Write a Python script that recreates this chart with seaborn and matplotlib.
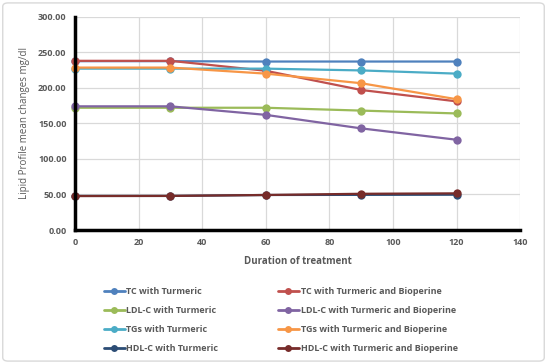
import matplotlib
matplotlib.use("Agg")
import matplotlib.pyplot as plt
import seaborn as sns
import pandas as pd
from matplotlib.lines import Line2D
from matplotlib.patches import FancyBboxPatch

days = [0, 30, 60, 90, 120]
tc_tur = [237.5, 237.5, 237, 237, 237]
tc_bio = [238, 238, 224, 197, 181]
ldl_tur = [172, 172, 172, 168, 164]
ldl_bio = [174, 174, 162, 143, 127]
tg_tur = [227, 227, 227, 224.5, 220]
tg_bio = [228.5, 228.5, 220, 206.5, 184]
hdl_tur = [48, 48, 49.3, 49.5, 49.7]
hdl_bio = [47.8, 48, 49.3, 51, 51.6]

names = ["TC with Turmeric", "TC with Turmeric and Bioperine",
         "LDL-C with Turmeric", "LDL-C with Turmeric and Bioperine",
         "TGs with Turmeric", "TGs with Turmeric and Bioperine",
         "HDL-C with Turmeric", "HDL-C with Turmeric and Bioperine"]
series = [tc_tur, tc_bio, ldl_tur, ldl_bio, tg_tur, tg_bio, hdl_tur, hdl_bio]
colors = ["#4F81BD", "#C0504D", "#9BBB59", "#8064A2",
          "#4BACC6", "#F79646", "#2C4D75", "#772C2A"]

rows = []
for n, s in zip(names, series):
    for d, v in zip(days, s):
        rows.append({"Duration": d, "Value": v, "Series": n})
df = pd.DataFrame(rows)

sns.set_style("white")
plt.rcParams['font.family'] = ['Open Sans', 'DejaVu Sans']

fig = plt.figure(figsize=(5.47, 3.64), dpi=100)
ax = fig.add_axes([0.137, 0.368, 0.814, 0.586])

sns.lineplot(data=df, x="Duration", y="Value", hue="Series", hue_order=names,
             palette=colors, marker="o", markersize=6, markeredgewidth=0,
             linewidth=1.6, ax=ax, legend=False, sort=False)
for ln in ax.lines:
    ln.set_clip_on(False)

ax.set_xlim(0, 140)
ax.set_ylim(0, 300)
ax.set_xticks(range(0, 141, 20))
ax.set_yticks(range(0, 301, 50))
ax.set_yticklabels([f"{v:.2f}" for v in range(0, 301, 50)])
ax.grid(True, color="#D9D9D9", linewidth=0.9)
ax.set_axisbelow(True)
for sp in ["top", "right"]:
    ax.spines[sp].set_visible(False)
for sp in ["left", "bottom"]:
    ax.spines[sp].set_color("black")
    ax.spines[sp].set_linewidth(2.5)
ax.tick_params(axis="both", length=0, labelsize=6.5, labelcolor="#595959", pad=6)
for lab in ax.get_xticklabels() + ax.get_yticklabels():
    lab.set_fontweight("bold")
ax.set_xlabel("Duration of treatment", fontsize=7, color="#595959", fontweight="bold", labelpad=6)
ax.set_ylabel("Lipid Profile mean changes mg/dl", fontsize=7, color="#595959", labelpad=6)

order = [0, 2, 4, 6, 1, 3, 5, 7]
handles = [Line2D([0], [0], color=colors[i], marker="o", markersize=5, linewidth=2, markeredgewidth=0)
           for i in order]
labels = [names[i] for i in order]
fig.legend(handles, labels, loc="upper left", bbox_to_anchor=(0.175, 0.234), ncol=2,
           frameon=False, handlelength=2.3, handletextpad=0.2,
           columnspacing=6.6, labelspacing=1.1, labelcolor="#595959",
           prop={"weight": "bold", "size": 6.5})

fig.patches.append(FancyBboxPatch((0.005, 0.008), 0.99, 0.984, boxstyle="round,pad=0,rounding_size=0.01",
                                  transform=fig.transFigure, fill=False, edgecolor="#D9D9D9", linewidth=1))

fig.savefig("out.png", dpi=100)
